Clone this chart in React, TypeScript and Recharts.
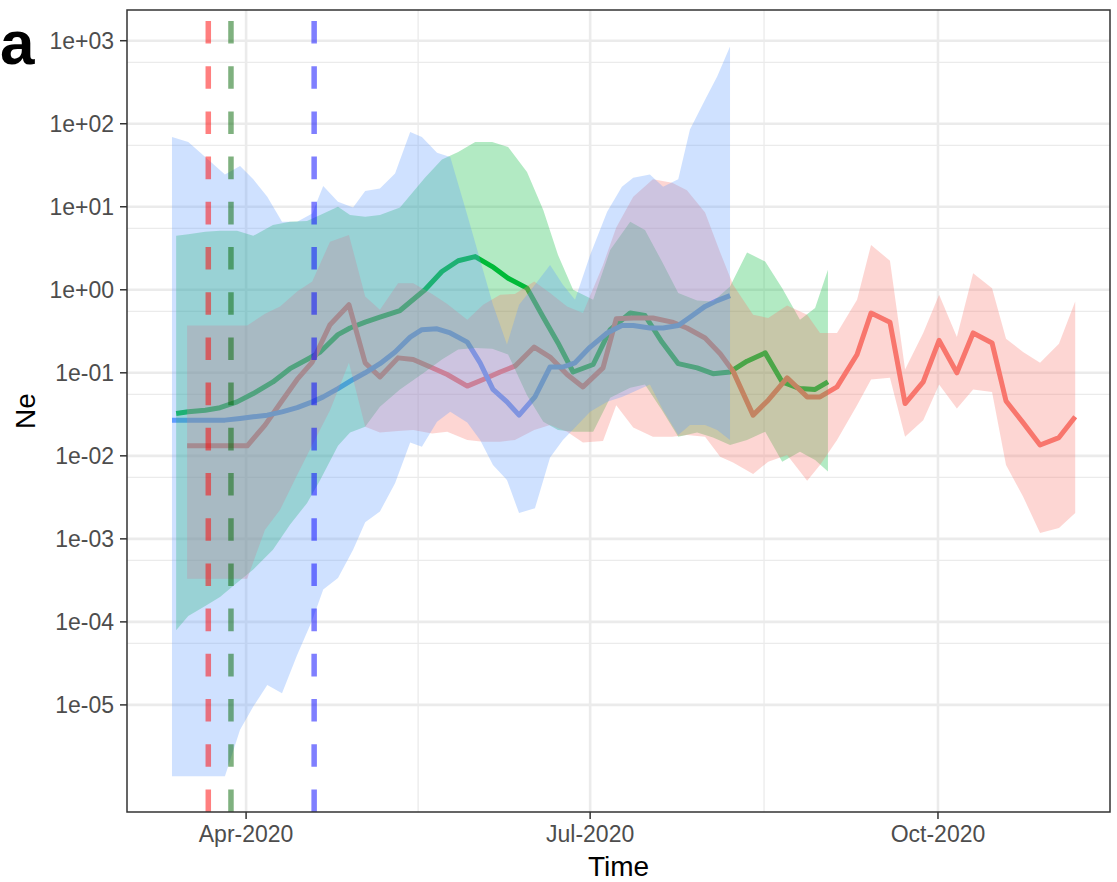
import React from 'react';
import { ComposedChart, Line, Area, XAxis, YAxis, CartesianGrid, ReferenceLine, ReferenceArea } from 'recharts';

// days since 2020-01-01, Ne values stored as log10(Ne)
const redDays = [75.4, 80.2, 85.7, 91.3, 96.0, 100.0, 104.5, 108.5, 113.2, 118.2, 122.5, 126.4, 131.2, 135.2, 140.2, 144.2, 149.5, 153.7, 158.2, 162.1, 167.2, 171.4, 175.9, 180.1, 185.4, 188.9, 193.4, 198.6, 203.7, 207.6, 212.4, 216.4, 219.8, 225.1, 229.1, 234.1, 239.4, 242.8, 247.3, 252.6, 256.3, 261.3, 265.3, 270.1, 274.3, 279.0, 283.3, 288.3, 292.0, 296.5, 301.0, 306.0, 310.3];
const redLogNe = [-1.88, -1.88, -1.88, -1.88, -1.63, -1.37, -1.08, -0.87, -0.42, -0.18, -0.88, -1.05, -0.82, -0.84, -0.94, -1.02, -1.16, -1.08, -0.99, -0.92, -0.69, -0.81, -1.02, -1.17, -0.94, -0.35, -0.34, -0.34, -0.39, -0.46, -0.58, -0.77, -0.98, -1.51, -1.33, -1.06, -1.29, -1.29, -1.17, -0.78, -0.28, -0.39, -1.37, -1.11, -0.61, -1.00, -0.52, -0.64, -1.34, -1.60, -1.87, -1.78, -1.53];
const redLogHigh = [-0.43, -0.43, -0.43, -0.43, -0.29, -0.20, -0.02, 0.10, 0.58, 0.66, -0.08, -0.24, 0.08, 0.08, -0.05, -0.17, -0.36, -0.18, -0.06, -0.05, 0.10, -0.04, -0.20, -0.28, 0.30, 0.75, 1.12, 1.33, 1.29, 1.20, 0.93, 0.45, 0.06, -0.30, -0.34, -0.19, -0.30, -0.52, -0.52, -0.12, 0.54, 0.35, -0.96, -0.52, -0.06, -0.57, 0.20, 0.02, -0.59, -0.75, -0.88, -0.65, -0.14];
const redLogLow = [-3.48, -3.48, -3.48, -3.48, -2.89, -2.65, -2.23, -1.87, -1.45, -0.88, -1.65, -1.72, -1.70, -1.69, -1.73, -1.71, -1.81, -1.83, -1.83, -1.81, -1.69, -1.63, -1.71, -1.84, -1.82, -1.39, -1.66, -1.77, -1.77, -1.75, -1.77, -2.01, -2.08, -2.22, -2.07, -1.99, -2.30, -2.11, -1.81, -1.39, -1.08, -1.06, -1.77, -1.57, -1.14, -1.43, -1.20, -1.23, -2.11, -2.49, -2.93, -2.87, -2.69];

const greenDays = [72.5, 75.7, 80.2, 84.1, 88.6, 92.9, 98.1, 102.6, 107.1, 110.6, 115.3, 118.5, 122.5, 126.4, 131.7, 138.3, 142.8, 147.1, 151.6, 156.1, 160.3, 165.3, 169.6, 173.5, 177.5, 182.8, 187.3, 192.6, 196.5, 201.0, 205.3, 210.3, 214.5, 219.0, 223.5, 228.3, 232.8, 237.5, 241.5, 244.9];
const greenLogNe = [-1.49, -1.47, -1.45, -1.42, -1.35, -1.25, -1.11, -0.95, -0.84, -0.75, -0.54, -0.46, -0.39, -0.33, -0.25, 0.00, 0.22, 0.35, 0.40, 0.28, 0.14, 0.02, -0.33, -0.64, -0.99, -0.90, -0.48, -0.28, -0.31, -0.63, -0.89, -0.94, -1.01, -0.99, -0.86, -0.76, -1.11, -1.19, -1.20, -1.11];
const greenLogHigh = [0.65, 0.67, 0.70, 0.71, 0.71, 0.65, 0.78, 0.82, 0.83, 0.90, 1.00, 0.90, 0.88, 0.90, 0.99, 1.35, 1.57, 1.66, 1.78, 1.78, 1.72, 1.42, 0.96, 0.42, 0.00, -0.12, 0.48, 0.82, 0.72, 0.34, -0.04, -0.13, -0.14, 0.04, 0.45, 0.34, 0.02, -0.36, -0.22, 0.24];
const greenLogLow = [-4.10, -3.93, -3.81, -3.70, -3.53, -3.37, -3.13, -2.83, -2.57, -2.29, -1.88, -1.72, -1.65, -1.41, -1.20, -0.99, -0.84, -0.72, -0.70, -0.71, -0.78, -1.27, -1.59, -1.69, -1.71, -1.71, -1.30, -1.18, -1.14, -1.45, -1.77, -1.72, -1.78, -1.87, -1.81, -1.71, -2.07, -1.95, -2.05, -2.19];

const blueDays = [71.4, 75.7, 80.2, 85.4, 89.4, 92.9, 96.6, 100.5, 104.5, 108.5, 111.4, 115.3, 119.3, 122.5, 126.4, 130.4, 134.4, 137.5, 141.5, 145.0, 149.5, 152.9, 156.3, 160.0, 163.2, 167.4, 171.4, 174.8, 178.0, 182.0, 186.5, 190.4, 193.4, 197.8, 201.3, 205.3, 208.4, 212.4, 215.6, 219.0];
const blueLogNe = [-1.57, -1.57, -1.57, -1.57, -1.55, -1.53, -1.51, -1.47, -1.42, -1.35, -1.29, -1.19, -1.08, -1.00, -0.89, -0.75, -0.57, -0.48, -0.47, -0.52, -0.63, -0.88, -1.20, -1.35, -1.51, -1.29, -0.93, -0.93, -0.88, -0.69, -0.52, -0.43, -0.43, -0.46, -0.46, -0.43, -0.33, -0.20, -0.13, -0.07];
const blueLogHigh = [1.84, 1.78, 1.60, 1.39, 1.49, 1.33, 1.12, 0.82, 0.82, 0.92, 1.25, 1.06, 0.99, 1.19, 1.22, 1.40, 1.90, 1.84, 1.65, 1.60, 0.90, 0.36, -0.18, -0.66, -0.18, 0.06, 0.30, 0.06, -0.12, 0.42, 0.94, 1.24, 1.35, 1.39, 1.24, 1.33, 1.93, 2.29, 2.57, 2.93];
const blueLogLow = [-5.86, -5.86, -5.86, -5.86, -5.30, -5.02, -4.76, -4.86, -4.40, -3.98, -3.61, -3.47, -3.13, -2.80, -2.67, -2.33, -1.84, -1.89, -1.59, -1.47, -1.60, -1.81, -2.11, -2.29, -2.69, -2.63, -2.02, -1.81, -1.66, -1.47, -1.35, -1.29, -1.23, -1.14, -1.45, -1.75, -1.63, -1.63, -1.69, -1.81];

// dashed markers: Mar 22, Mar 28, Apr 19
const markerDays = [81, 87, 109];
const markerColors = ['#FF0000', '#006400', '#0000FF'];

const xTickDays = [91, 182, 274];
const xTickLabels = ['Apr-2020', 'Jul-2020', 'Oct-2020'];
const xMinorDays = [136.5, 228];
const yTicks = [-5, -4, -3, -2, -1, 0, 1, 2, 3];
const yTickLabels = ['1e-05', '1e-04', '1e-03', '1e-02', '1e-01', '1e+00', '1e+01', '1e+02', '1e+03'];
const yMinor = [2.74, 1.74, 0.74, -0.26, -1.26, -2.26, -3.26, -4.26];

const xDomain: [number, number] = [59.5, 319.5];
const yDomain: [number, number] = [-6.29, 3.37];

const RED = '#F8766D';
const GREEN = '#00BA38';
const BLUE = '#619CFF';
const FONT = '"Liberation Sans", Arial, Helvetica, sans-serif';

const lineData = (days: number[], vals: number[]) => days.map((d, i) => ({ d, v: vals[i] }));
const ribbonData = (days: number[], lo: number[], hi: number[]) => days.map((d, i) => ({ d, range: [lo[i], hi[i]] }));

const series = [
  { key: 'green', color: GREEN, line: lineData(greenDays, greenLogNe), ribbon: ribbonData(greenDays, greenLogLow, greenLogHigh) },
  { key: 'red', color: RED, line: lineData(redDays, redLogNe), ribbon: ribbonData(redDays, redLogLow, redLogHigh) },
  { key: 'blue', color: BLUE, line: lineData(blueDays, blueLogNe), ribbon: ribbonData(blueDays, blueLogLow, blueLogHigh) },
];

const tickStyle = { fontFamily: FONT, fontSize: 23, fill: '#4D4D4D' };

export default function App() {
  return (
    <div style={{ position: 'absolute', left: 0, top: 0, width: 1117, height: 882, overflow: 'hidden', background: '#fff' }}>
      <ComposedChart width={1117} height={882} margin={{ top: 10, right: 7, left: 0, bottom: 0 }}>
        <CartesianGrid horizontalValues={yMinor} verticalValues={xMinorDays} stroke="#EBEBEB" strokeWidth={1.3} />
        <CartesianGrid horizontalValues={yTicks} verticalValues={xTickDays} stroke="#EBEBEB" strokeWidth={2.6} />
        <XAxis
          type="number"
          dataKey="d"
          domain={xDomain}
          allowDataOverflow
          ticks={xTickDays}
          tickFormatter={(v: number) => xTickLabels[xTickDays.indexOf(v)] ?? ''}
          height={70}
          axisLine={false}
          tickSize={7}
          tickMargin={7}
          tickLine={{ stroke: '#333333', strokeWidth: 1.5 }}
          tick={tickStyle}
          label={{ value: 'Time', position: 'insideBottom', offset: 6, style: { fontFamily: FONT, fontSize: 28, fill: '#000' } }}
        />
        <YAxis
          type="number"
          domain={yDomain}
          allowDataOverflow
          ticks={yTicks}
          tickFormatter={(v: number) => yTickLabels[yTicks.indexOf(v)] ?? ''}
          width={127}
          axisLine={false}
          tickSize={7}
          tickMargin={6}
          tickLine={{ stroke: '#333333', strokeWidth: 1.5 }}
          tick={tickStyle}
        />
        {series.map((s) => (
          <Line
            key={s.key + '-line'}
            data={s.line}
            dataKey="v"
            type="linear"
            stroke={s.color}
            strokeWidth={5}
            strokeLinejoin="round"
            dot={false}
            activeDot={false}
            isAnimationActive={false}
            zIndex={50}
          />
        ))}
        {series.map((s) => (
          <Area
            key={s.key + '-ribbon'}
            data={s.ribbon}
            dataKey="range"
            type="linear"
            fill={s.color}
            fillOpacity={0.3}
            stroke="none"
            dot={false}
            activeDot={false}
            isAnimationActive={false}
            zIndex={100}
          />
        ))}
        {markerDays.map((d, i) => (
          <ReferenceLine
            key={'m' + d}
            x={d}
            stroke={markerColors[i]}
            strokeOpacity={0.5}
            strokeWidth={5.5}
            strokeDasharray="22.6 22.6"
            zIndex={1500}
          />
        ))}
        <ReferenceArea
          x1={xDomain[0]}
          x2={xDomain[1]}
          y1={yDomain[0]}
          y2={yDomain[1]}
          fill="none"
          fillOpacity={0}
          stroke="#333333"
          strokeWidth={1.5}
          zIndex={1600}
        />
      </ComposedChart>
      <svg width={1117} height={882} style={{ position: 'absolute', left: 0, top: 0, pointerEvents: 'none' }}>
        <text x={0} y={64} fontFamily={FONT} fontWeight="bold" fontSize={62} fill="#000">a</text>
        <text x={25} y={411} fontFamily={FONT} fontSize={28} fill="#000" textAnchor="middle" dominantBaseline="central" transform="rotate(-90 25 411)">Ne</text>
      </svg>
    </div>
  );
}
